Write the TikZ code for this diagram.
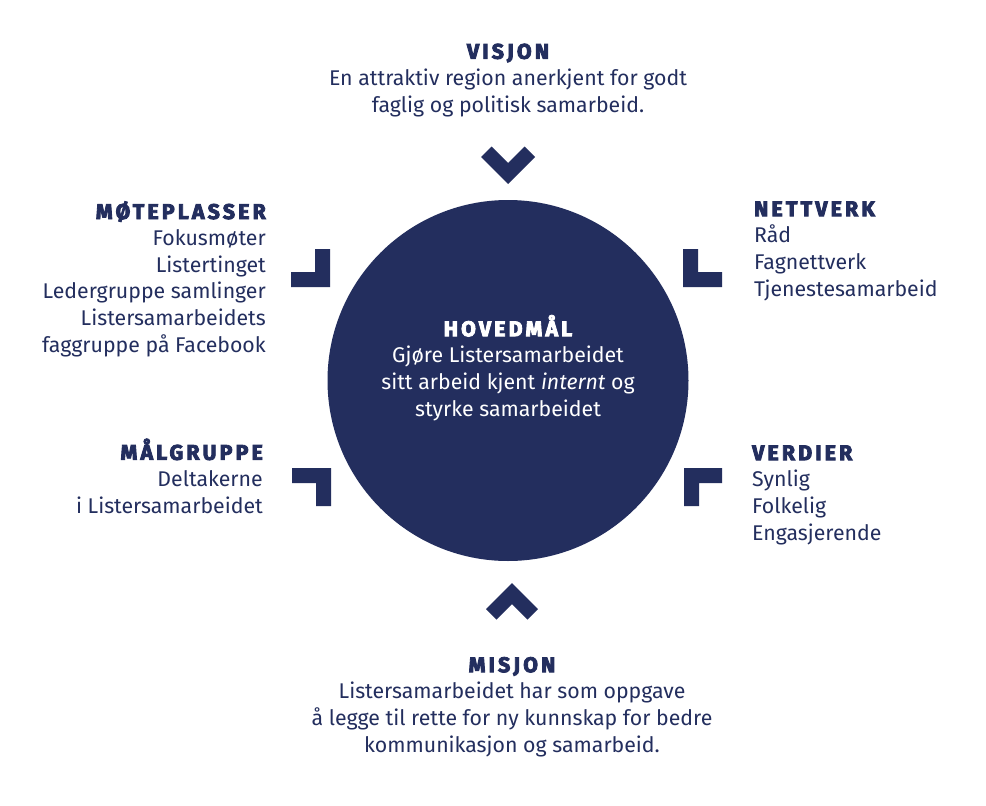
\documentclass[tikz,border=0pt]{standalone}
\usepackage{fontspec}
\setmainfont{Fira Sans}
\newfontfamily\headfont{Fira Sans}[LetterSpace=15, BoldFeatures={FakeBold=4}]
\definecolor{listerblue}{RGB}{35,46,94}
\newcommand{\blockhead}[1]{{\headfont\bfseries #1}}
\tikzset{
	blocktext/.style={text=listerblue, inner sep=0pt, font=\fontsize{21.3}{26.6}\selectfont},
	markfill/.style={fill=listerblue}
}

\begin{document}
\begin{tikzpicture}[x=1pt,y=-1pt]
		\useasboundingbox (0,0) rectangle (986,806);
		\fill[white] (0,0) rectangle (986,806);

		\draw (508,380.5) node [circle, fill=listerblue, minimum size=361pt, inner sep=0pt] (hoved) {};

		% text blocks, placed at the baseline of their last line
		\draw (508,416) node [blocktext, text=white, align=center, anchor=base] (hovedtekst)
			{\blockhead{HOVEDMÅL}\\Gjøre Listersamarbeidet\\sitt arbeid kjent \textit{internt} og\\styrke samarbeidet};
		\draw (508,112) node [blocktext, align=center, anchor=base] (visjon)
			{\blockhead{VISJON}\\En attraktiv region anerkjent for godt\\faglig og politisk samarbeid.};
		\draw (512,752) node [blocktext, align=center, anchor=base] (misjon)
			{\blockhead{MISJON}\\Listersamarbeidet har som oppgave\\å legge til rette for ny kunnskap for bedre\\kommunikasjon og samarbeid.};
		\draw (266,352) node [blocktext, align=right, anchor=base east] (moteplasser)
			{\blockhead{MØTEPLASSER}\\Fokusmøter\\Listertinget\\Ledergruppe samlinger\\Listersamarbeidets\\faggruppe på Facebook};
		\draw (263,513) node [blocktext, align=right, anchor=base east] (malgruppe)
			{\blockhead{MÅLGRUPPE}\\Deltakerne\\i Listersamarbeidet};
		\draw (754,296) node [blocktext, align=left, anchor=base west] (nettverk)
			{\blockhead{NETTVERK}\\Råd\\Fagnettverk\\Tjenestesamarbeid};
		\draw (752,540) node [blocktext, align=left, anchor=base west] (verdier)
			{\blockhead{VERDIER}\\Synlig\\Folkelig\\Engasjerende};

		% chevrons
		\fill[markfill] (481,157) -- (508,184) -- (535,157) -- (524.5,146.5) -- (508,163) -- (491.5,146.5) -- cycle;
		\fill[markfill] (486,609) -- (512,583) -- (538,609) -- (527.5,619.5) -- (512,604) -- (496.5,619.5) -- cycle;

		% corners
		\fill[markfill] (315,249) -- (330,249) -- (330,287) -- (291,287) -- (291,272) -- (315,272) -- cycle;
		\fill[markfill] (683,249) -- (698,249) -- (698,272) -- (722,272) -- (722,287) -- (683,287) -- cycle;
		\fill[markfill] (292,468) -- (331,468) -- (331,506) -- (316,506) -- (316,483) -- (292,483) -- cycle;
		\fill[markfill] (684,468) -- (722,468) -- (722,483) -- (699,483) -- (699,506) -- (684,506) -- cycle;
	\end{tikzpicture}
\end{document}
